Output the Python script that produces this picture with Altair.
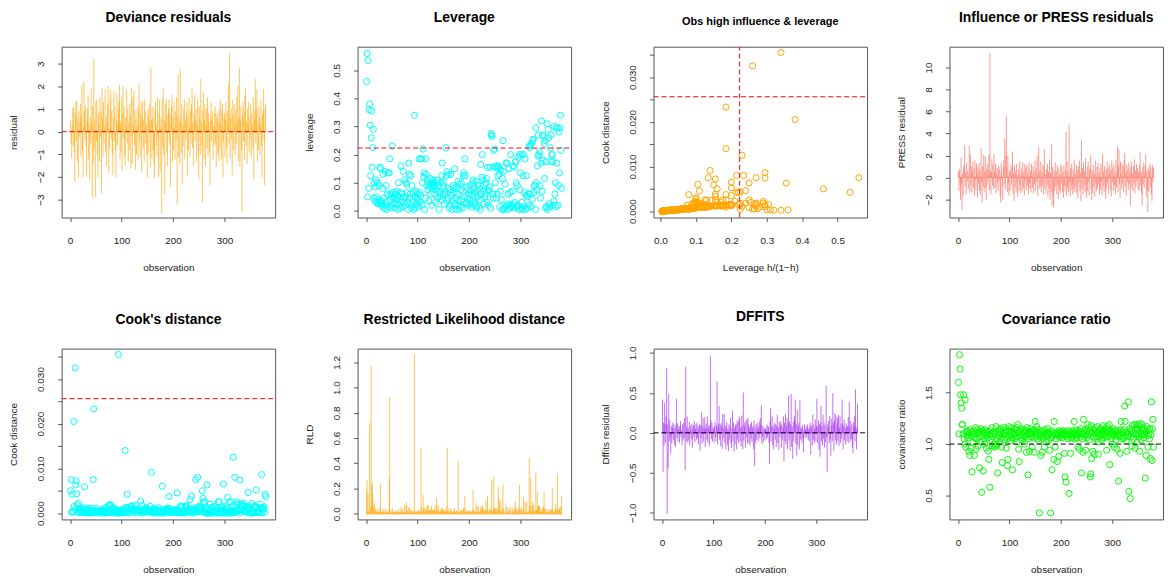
import altair as alt
import pandas as pd

obs = list(range(1, 381))

residual = [
0.5,-0.5,-1.15,0.3,1.0,-0.6,1.1,-0.9,-2.2,0.8,
1.3,-0.4,1.35,-1.3,0.6,-2.0,0.9,-0.2,0.4,1.2,
-1.1,0.7,2.05,-0.8,-2.0,0.2,2.2,0.9,-0.3,1.1,
-0.6,-1.9,0.5,1.0,1.6,-1.2,0.3,-2.1,0.6,-0.5,
1.9,0.4,-2.9,1.1,-1.4,3.2,-0.7,0.5,-2.85,1.3,
-0.4,1.4,-1.0,-2.0,0.8,0.3,-1.3,1.5,-0.2,0.9,
-2.7,1.9,0.6,-1.1,1.3,-0.5,0.2,1.85,-0.9,0.7,
-1.5,0.4,1.2,2.0,-1.8,0.1,-0.7,1.4,1.8,-0.3,
0.9,-1.0,-1.9,0.6,1.8,-0.4,1.1,-0.8,-2.0,0.5,
1.7,-0.6,0.3,1.0,1.3,2.05,-1.2,0.4,-0.9,1.5,
-1.7,0.8,2.0,-0.3,1.1,-1.1,-1.5,0.6,0.2,1.85,
-0.5,1.0,-1.3,0.4,-0.8,1.2,0.7,-1.6,1.9,-0.2,
-1.4,1.5,0.3,1.8,-0.6,0.9,-1.65,0.5,-1.0,1.0,
0.2,-1.2,1.1,2.1,-0.4,-1.1,0.8,1.3,-1.75,0.6,
1.3,-0.7,0.5,-1.3,1.4,0.9,-0.5,0.3,-1.0,-2.0,
0.7,1.0,-0.9,0.4,1.2,-1.6,2.8,0.5,-1.2,0.6,
1.1,-0.8,-1.4,-2.0,0.9,1.3,-0.6,0.3,-1.1,1.5,
-0.3,-2.0,0.8,1.4,-1.7,0.2,0.6,-3.6,1.45,-0.7,
1.9,-1.0,0.5,-2.75,1.2,0.4,1.4,-0.9,-1.5,0.7,
1.0,1.4,-0.5,0.8,-2.4,0.3,1.1,1.6,-1.3,0.6,
-0.8,1.3,0.2,-1.2,0.9,-0.4,1.5,-3.2,0.7,2.5,
-1.1,0.4,-1.4,2.75,0.6,-0.9,1.2,-2.3,0.3,-0.6,
1.0,1.4,-1.2,0.5,-0.3,0.8,1.3,-1.9,0.6,-0.8,
1.5,0.2,-1.1,0.9,-0.5,1.2,1.9,-0.7,0.4,-1.5,
0.8,1.6,-0.4,0.5,1.0,-1.3,0.3,1.4,-0.9,-2.1,
1.1,0.6,-1.0,2.3,0.4,-0.6,-3.1,0.9,1.7,-1.2,
0.5,1.2,-1.5,0.3,1.0,-0.7,1.5,-1.1,0.8,0.4,
-0.9,-2.35,0.7,1.3,-0.4,0.5,0.9,-1.2,0.2,-0.6,
0.8,1.1,-0.5,-1.55,0.6,0.8,-1.0,0.4,-1.3,1.0,
-0.7,1.4,0.3,-1.2,0.9,1.2,-2.0,-0.4,0.6,0.8,
-1.1,0.5,1.3,-0.7,-1.4,0.9,0.4,2.1,-0.5,3.45,
-1.2,0.6,1.0,-0.3,-1.9,1.4,0.7,-0.8,1.2,0.3,
-1.0,0.9,-0.5,1.5,0.4,2.0,-1.3,0.6,2.8,-1.55,
0.5,1.1,-0.8,-3.5,0.7,1.3,-0.4,0.9,-1.2,1.6,
1.9,-0.6,0.4,-1.4,1.0,0.2,1.3,-0.9,0.6,-0.3,
1.2,-1.1,0.8,0.3,-0.7,1.5,-2.1,0.5,0.9,2.3,
-0.5,1.0,1.85,-1.3,0.4,-0.8,1.1,0.6,-1.0,0.3,
1.4,-0.6,-2.0,0.7,0.9,1.85,-0.4,-2.35,1.0,1.2,
]

leverage = [
0.46,0.56,0.05,0.535,0.08,0.36,0.38,0.305,0.125,0.26,
0.355,0.155,0.225,0.29,0.045,0.10,0.035,0.085,0.11,0.05,
0.03,0.10,0.025,0.04,0.09,0.03,0.155,0.15,0.02,0.035,
0.025,0.08,0.13,0.045,0.01,0.02,0.14,0.03,0.09,0.005,
0.06,0.015,0.135,0.055,0.135,0.185,0.04,0.01,0.06,0.02,
0.23,0.05,0.065,0.03,0.045,0.01,0.06,0.025,0.07,0.04,
0.055,0.005,0.10,0.02,0.05,0.065,0.01,0.16,0.035,0.06,
0.015,0.14,0.045,0.03,0.11,0.05,0.02,0.10,0.095,0.065,
0.03,0.005,0.17,0.13,0.045,0.06,0.125,0.01,0.09,0.035,
0.02,0.065,0.005,0.34,0.01,0.05,0.07,0.025,0.045,0.06,
0.04,0.015,0.185,0.065,0.03,0.055,0.185,0.185,0.02,0.10,
0.22,0.12,0.135,0.005,0.045,0.185,0.13,0.09,0.11,0.075,
0.10,0.035,0.085,0.115,0.10,0.06,0.095,0.02,0.08,0.11,
0.09,0.10,0.06,0.085,0.03,0.075,0.10,0.11,0.045,0.09,
0.07,0.005,0.05,0.065,0.10,0.04,0.125,0.17,0.06,0.10,
0.09,0.025,0.06,0.07,0.225,0.125,0.035,0.14,0.08,0.045,
0.13,0.01,0.02,0.075,0.13,0.055,0.005,0.035,0.09,0.065,
0.08,0.15,0.025,0.045,0.005,0.085,0.06,0.02,0.105,0.035,
0.005,0.095,0.015,0.075,0.10,0.04,0.01,0.07,0.125,0.135,
0.05,0.185,0.125,0.025,0.03,0.085,0.045,0.02,0.075,0.06,
0.04,0.09,0.025,0.07,0.015,0.055,0.10,0.11,0.03,0.08,
0.065,0.02,0.045,0.105,0.01,0.075,0.05,0.09,0.015,0.04,
0.08,0.005,0.165,0.06,0.12,0.20,0.11,0.07,0.025,0.095,
0.05,0.06,0.10,0.115,0.03,0.155,0.075,0.02,0.07,0.085,
0.155,0.01,0.275,0.27,0.265,0.06,0.045,0.215,0.155,0.22,
0.10,0.16,0.045,0.155,0.06,0.125,0.16,0.155,0.13,0.015,
0.07,0.145,0.04,0.005,0.115,0.25,0.14,0.005,0.01,0.095,
0.015,0.17,0.02,0.17,0.005,0.06,0.025,0.15,0.01,0.065,
0.20,0.02,0.015,0.07,0.16,0.025,0.01,0.155,0.03,0.175,
0.175,0.10,0.015,0.09,0.02,0.19,0.005,0.20,0.075,0.135,
0.01,0.20,0.03,0.005,0.125,0.20,0.015,0.065,0.185,0.005,
0.055,0.125,0.01,0.05,0.06,0.02,0.23,0.225,0.06,0.235,
0.015,0.24,0.04,0.25,0.255,0.065,0.09,0.09,0.005,0.295,
0.10,0.075,0.16,0.195,0.27,0.20,0.21,0.09,0.045,0.17,
0.32,0.07,0.27,0.18,0.265,0.24,0.115,0.25,0.01,0.175,
0.015,0.31,0.005,0.29,0.26,0.025,0.015,0.225,0.175,0.27,
0.20,0.20,0.175,0.02,0.035,0.30,0.06,0.10,0.015,0.295,
0.17,0.295,0.02,0.09,0.28,0.135,0.295,0.34,0.215,0.08,
]

cook = [
0.005,0.0075,0.0002,0.0042,0.0003,0.0003,0.0205,0.0015,0.0008,0.0325,
0.0063,0.0072,0.0043,0.0018,0.0002,0.0022,0.0001,0.0009,0.0011,0.0003,
0.0002,0.0010,0.0001,0.0003,0.0008,0.0002,0.0012,0.0059,0.0001,0.0003,
0.0002,0.0007,0.0009,0.0003,0.0000,0.0001,0.0011,0.0002,0.0006,0.0000,
0.0004,0.0001,0.0010,0.0004,0.0075,0.0233,0.0003,0.0001,0.0005,0.0001,
0.0011,0.0004,0.0005,0.0002,0.0003,0.0000,0.0005,0.0002,0.0006,0.0003,
0.0004,0.0000,0.0008,0.0001,0.0004,0.0005,0.0000,0.0012,0.0002,0.0005,
0.0001,0.0011,0.0003,0.0002,0.0018,0.0004,0.0001,0.0019,0.0017,0.0005,
0.0002,0.0000,0.0012,0.0011,0.0003,0.0005,0.0010,0.0000,0.0007,0.0002,
0.0001,0.0005,0.0000,0.0355,0.0000,0.0004,0.0006,0.0002,0.0003,0.0005,
0.0003,0.0001,0.0009,0.0005,0.0002,0.0004,0.0140,0.0013,0.0001,0.0007,
0.0042,0.0010,0.0011,0.0000,0.0003,0.0014,0.0010,0.0007,0.0015,0.0006,
0.0016,0.0002,0.0007,0.0009,0.0008,0.0005,0.0017,0.0001,0.0006,0.0009,
0.0007,0.0008,0.0005,0.0007,0.0002,0.0006,0.0027,0.0010,0.0003,0.0017,
0.0006,0.0000,0.0004,0.0005,0.0008,0.0003,0.0010,0.0012,0.0005,0.0008,
0.0007,0.0002,0.0005,0.0006,0.0004,0.0015,0.0002,0.0091,0.0007,0.0003,
0.0010,0.0000,0.0001,0.0006,0.0011,0.0004,0.0000,0.0002,0.0007,0.0005,
0.0006,0.0012,0.0002,0.0003,0.0000,0.0007,0.0005,0.0001,0.0060,0.0002,
0.0000,0.0007,0.0001,0.0006,0.0009,0.0003,0.0000,0.0006,0.0010,0.0011,
0.0004,0.0037,0.0010,0.0002,0.0002,0.0007,0.0003,0.0001,0.0006,0.0005,
0.0003,0.0007,0.0002,0.0006,0.0001,0.0004,0.0008,0.0045,0.0002,0.0006,
0.0005,0.0001,0.0003,0.0016,0.0000,0.0013,0.0004,0.0015,0.0001,0.0003,
0.0006,0.0000,0.0014,0.0005,0.0016,0.0012,0.0015,0.0006,0.0002,0.0008,
0.0004,0.0005,0.0030,0.0009,0.0002,0.0038,0.0006,0.0001,0.0006,0.0007,
0.0012,0.0000,0.0006,0.0075,0.0005,0.0005,0.0003,0.0080,0.0012,0.0015,
0.0008,0.0012,0.0003,0.0012,0.0005,0.0010,0.0050,0.0033,0.0025,0.0001,
0.0006,0.0025,0.0003,0.0000,0.0009,0.0063,0.0011,0.0000,0.0000,0.0007,
0.0001,0.0020,0.0001,0.0013,0.0000,0.0005,0.0002,0.0012,0.0000,0.0005,
0.0015,0.0001,0.0001,0.0006,0.0012,0.0002,0.0000,0.0025,0.0002,0.0025,
0.0013,0.0008,0.0001,0.0007,0.0001,0.0014,0.0000,0.0065,0.0006,0.0010,
0.0000,0.0015,0.0002,0.0000,0.0010,0.0035,0.0001,0.0005,0.0025,0.0000,
0.0004,0.0025,0.0000,0.0004,0.0005,0.0001,0.0125,0.0017,0.0005,0.0080,
0.0001,0.0018,0.0003,0.0025,0.0020,0.0005,0.0007,0.0007,0.0000,0.0074,
0.0008,0.0006,0.0020,0.0014,0.0018,0.0015,0.0022,0.0007,0.0003,0.0012,
0.0002,0.0005,0.0010,0.0013,0.0015,0.0046,0.0009,0.0008,0.0000,0.0013,
0.0001,0.0003,0.0000,0.0022,0.0005,0.0002,0.0001,0.0016,0.0012,0.0015,
0.0014,0.0052,0.0013,0.0001,0.0002,0.0003,0.0005,0.0020,0.0001,0.0010,
0.0012,0.0086,0.0001,0.0007,0.0009,0.0011,0.0014,0.0002,0.0042,0.0037,
]

press = [
0.5,-1.2,0.7,-0.4,-2.0,1.8,-0.6,-2.9,0.3,-1.6,
0.9,1.1,2.85,-0.8,0.4,-1.5,1.3,-0.3,0.6,-1.0,
0.2,2.85,-1.4,2.0,-0.7,1.0,-1.3,0.5,1.4,-0.9,
0.8,-1.6,1.5,-0.2,-1.1,1.2,0.4,-1.8,0.9,-0.5,
1.3,-1.2,0.6,-1.5,2.65,-0.4,-2.2,1.0,-0.8,2.0,
-1.3,0.5,1.9,-0.9,-2.0,0.7,1.2,-0.6,0.3,2.0,
-1.1,11.3,0.6,-1.5,0.4,1.6,-0.7,1.1,-1.0,2.1,
0.5,-0.9,1.2,-1.4,0.3,0.8,-0.5,-1.2,1.0,-0.3,
0.7,-1.6,-2.2,1.3,0.4,-0.8,-2.0,0.9,1.5,-0.6,
3.5,-1.0,2.0,5.6,0.8,-1.3,1.9,-0.5,-1.6,0.6,
-1.2,0.4,1.1,-0.7,0.9,2.3,-1.5,0.3,-2.1,1.0,
-0.8,0.5,-1.3,1.2,-0.4,-1.7,0.7,0.2,-1.1,1.4,
-0.6,-1.4,0.8,0.3,-1.2,1.3,-0.9,0.5,-1.6,1.2,
-0.3,0.9,-1.1,1.1,-0.7,0.4,-1.5,1.3,-0.5,-1.0,
0.6,-1.3,1.2,0.2,-0.9,1.0,-1.4,0.5,-0.6,1.5,
-1.2,0.8,-0.4,1.9,-1.6,0.3,2.7,-1.0,0.6,-0.8,
1.4,-1.3,0.4,-0.7,1.1,-1.5,0.9,2.5,-1.0,0.2,
-1.4,0.7,-0.6,1.2,-1.7,0.5,-1.0,1.6,-2.0,0.4,
-1.3,3.0,-2.5,0.9,-1.6,-2.7,0.6,-1.2,1.3,-0.8,
0.5,-1.5,1.0,-0.6,-1.9,0.8,-1.1,0.3,-1.4,1.2,
-0.5,0.9,-1.3,0.4,-1.8,1.1,-0.7,-1.2,0.6,4.1,
-1.6,1.4,-0.9,0.5,-1.3,4.75,-0.4,-1.7,0.8,-1.1,
1.2,-0.6,-1.5,0.7,-1.0,1.6,-1.3,0.3,-0.8,1.1,
-1.4,0.6,-1.9,1.0,-0.5,1.5,-1.2,0.4,-2.1,3.4,
-1.0,0.8,-1.5,1.3,-0.7,0.5,-1.3,1.7,-0.6,-1.8,
0.9,-1.2,1.4,-0.4,-1.6,0.7,1.0,2.0,-1.1,-2.0,
0.6,-1.4,1.1,-0.8,0.3,-1.7,1.5,-0.5,-1.2,0.9,
-1.0,1.3,-0.6,0.4,-1.5,0.8,-1.1,1.2,-0.3,-1.6,
2.1,-0.8,0.5,-1.3,1.0,-0.6,-1.9,0.7,-1.0,1.4,
-0.5,0.9,-1.4,0.3,1.2,-1.1,0.6,-1.7,1.5,-0.4,
0.8,-1.2,1.1,-0.7,0.4,-1.5,1.6,-0.9,0.5,2.8,
-1.3,1.0,2.5,-0.6,-1.8,1.4,0.3,-1.0,1.2,-0.5,
0.9,-1.3,1.5,2.2,-0.8,0.4,-1.6,1.1,-0.4,0.7,
-1.1,1.3,-0.6,0.5,-2.5,0.9,1.4,-0.9,0.3,-1.2,
1.0,-0.5,1.6,-1.4,0.6,-0.8,1.2,-0.3,0.8,-1.0,
0.4,-1.2,1.1,2.3,-0.7,0.5,-1.5,-2.5,0.9,-0.6,
1.3,-0.9,0.4,1.0,2.1,-1.7,0.6,-1.1,-3.1,0.8,
-1.3,0.5,1.2,-0.8,0.9,-1.5,-2.1,1.1,-0.4,0.8,
]

rld = [
0.18,0.26,0.01,0.15,0.01,0.01,0.72,0.05,0.03,1.165,
0.22,0.25,0.15,0.06,0.01,0.08,0.00,0.03,0.04,0.01,
0.01,0.03,0.00,0.01,0.03,0.01,0.04,0.23,0.00,0.01,
0.01,0.02,0.03,0.01,0.00,0.00,0.04,0.01,0.02,0.00,
0.01,0.00,0.03,0.01,0.28,0.92,0.01,0.00,0.02,0.00,
0.04,0.01,0.02,0.01,0.01,0.00,0.02,0.01,0.02,0.01,
0.01,0.00,0.03,0.00,0.01,0.02,0.00,0.05,0.01,0.02,
0.00,0.04,0.01,0.01,0.07,0.01,0.00,0.09,0.06,0.02,
0.01,0.00,0.05,0.04,0.01,0.02,0.03,0.00,0.02,0.01,
0.00,0.02,0.00,1.26,0.00,0.01,0.02,0.01,0.01,0.02,
0.01,0.00,0.03,0.02,0.01,0.01,0.52,0.05,0.00,0.02,
0.145,0.03,0.04,0.00,0.01,0.05,0.03,0.02,0.065,0.02,
0.065,0.01,0.02,0.03,0.03,0.02,0.06,0.00,0.02,0.03,
0.02,0.03,0.02,0.065,0.01,0.02,0.12,0.04,0.01,0.065,
0.02,0.00,0.01,0.02,0.03,0.01,0.04,0.04,0.02,0.03,
0.02,0.01,0.02,0.02,0.01,0.055,0.01,0.52,0.02,0.01,
0.04,0.00,0.00,0.02,0.04,0.01,0.00,0.01,0.02,0.02,
0.02,0.04,0.01,0.01,0.00,0.02,0.02,0.00,0.415,0.01,
0.00,0.02,0.00,0.02,0.03,0.01,0.00,0.02,0.04,0.04,
0.01,0.14,0.03,0.01,0.01,0.02,0.01,0.00,0.02,0.02,
0.01,0.02,0.01,0.02,0.00,0.01,0.03,0.19,0.01,0.02,
0.02,0.00,0.01,0.08,0.00,0.05,0.01,0.06,0.00,0.01,
0.02,0.00,0.05,0.02,0.06,0.04,0.06,0.02,0.01,0.03,
0.01,0.02,0.105,0.03,0.01,0.14,0.02,0.00,0.02,0.03,
0.04,0.00,0.02,0.26,0.02,0.02,0.01,0.29,0.04,0.05,
0.03,0.04,0.01,0.04,0.02,0.03,0.21,0.12,0.09,0.00,
0.02,0.10,0.01,0.00,0.03,0.225,0.04,0.00,0.00,0.02,
0.00,0.07,0.00,0.05,0.00,0.02,0.01,0.04,0.00,0.02,
0.05,0.00,0.00,0.02,0.04,0.01,0.00,0.04,0.01,0.095,
0.05,0.03,0.00,0.02,0.00,0.05,0.00,0.225,0.02,0.03,
0.00,0.05,0.01,0.00,0.03,0.13,0.00,0.02,0.095,0.00,
0.01,0.09,0.00,0.01,0.02,0.00,0.44,0.06,0.02,0.285,
0.00,0.06,0.01,0.09,0.07,0.02,0.02,0.02,0.00,0.325,
0.03,0.02,0.17,0.05,0.06,0.05,0.06,0.02,0.01,0.04,
0.01,0.02,0.03,0.05,0.05,0.165,0.03,0.03,0.00,0.04,
0.00,0.01,0.00,0.03,0.02,0.01,0.00,0.03,0.02,0.03,
0.03,0.205,0.03,0.00,0.01,0.01,0.02,0.07,0.00,0.03,
0.04,0.31,0.00,0.02,0.03,0.04,0.05,0.01,0.05,0.135,
]

dffits = [
0.41,-0.48,0.12,-0.15,0.37,0.1,-0.12,0.2,0.8,-1.01,
0.1,-0.44,0.48,-0.1,0.16,-0.05,-0.25,0.08,-0.12,0.06,
0.12,-0.08,0.1,-0.14,0.05,-0.17,0.09,0.42,-0.06,0.11,
-0.1,0.04,0.08,-0.12,0.07,0.14,-0.05,0.03,-0.15,0.1,
-0.08,0.12,-0.06,0.18,-0.46,0.82,-0.1,0.07,0.2,-0.12,
0.05,-0.09,0.13,-0.15,0.08,0.03,-0.07,0.11,-0.18,0.06,
0.09,-0.05,0.14,-0.11,0.04,0.1,-0.08,0.12,-0.06,0.08,
-0.14,0.05,0.1,-0.22,0.09,-0.06,0.25,-0.13,0.07,0.18,
-0.1,0.04,0.19,-0.17,0.06,0.11,-0.08,0.2,-0.12,0.05,
0.09,-0.16,0.08,0.96,0.15,-0.07,0.12,-0.1,0.06,0.04,
-0.12,0.08,0.13,-0.05,-0.1,0.09,0.64,-0.14,0.06,0.11,
0.33,-0.08,0.1,-0.16,0.07,0.12,-0.19,0.23,-0.06,0.05,
0.23,-0.12,0.09,-0.2,0.06,0.13,-0.15,0.04,-0.22,0.1,
-0.08,0.07,0.18,-0.12,-0.18,0.05,0.27,-0.1,0.12,-0.23,
0.06,-0.14,0.09,0.1,-0.2,0.15,-0.08,0.13,-0.12,0.2,
0.17,-0.1,0.06,-0.16,0.21,0.08,-0.2,0.5,-0.09,0.12,
0.07,-0.18,0.14,-0.05,0.16,-0.13,0.18,0.09,-0.12,0.06,
-0.15,0.1,-0.07,0.13,-0.11,0.05,0.08,-0.2,0.15,-0.41,
0.06,-0.12,0.1,-0.08,0.12,0.04,-0.1,0.07,0.13,-0.06,
0.18,0.09,0.34,-0.13,-0.05,0.08,-0.11,0.06,0.03,-0.09,
0.05,0.04,-0.07,0.1,-0.05,0.08,0.06,-0.12,-0.38,0.14,
0.3,-0.1,0.07,0.2,-0.15,0.09,-0.2,0.05,0.12,-0.08,
0.1,-0.17,0.08,0.22,-0.12,0.06,-0.21,0.13,-0.05,0.09,
0.14,-0.18,0.1,-0.08,0.06,0.2,-0.35,0.12,-0.1,0.23,
-0.14,0.08,0.18,-0.2,0.12,0.46,-0.09,0.14,-0.22,0.1,
0.48,-0.17,0.07,-0.32,0.13,-0.1,0.2,0.16,0.41,-0.13,
0.1,-0.28,0.28,-0.15,0.08,0.12,-0.2,0.4,-0.08,0.06,
0.05,-0.12,0.09,-0.07,-0.24,0.04,0.1,-0.06,0.03,0.08,
-0.05,0.06,0.1,-0.08,0.04,-0.1,0.07,0.12,-0.27,0.09,
0.06,-0.15,0.22,-0.08,0.1,-0.12,0.05,0.16,-0.1,0.08,
0.42,-0.12,0.07,0.15,-0.2,0.1,-0.29,0.12,0.33,-0.1,
0.08,-0.15,0.22,-0.07,0.12,-0.18,0.09,-0.11,0.58,-0.05,
-0.48,0.1,0.06,0.14,-0.12,0.2,-0.08,-0.28,0.17,0.08,
-0.1,0.49,0.12,-0.22,0.15,0.24,-0.09,0.21,-0.14,0.1,
0.18,-0.1,0.22,-0.16,0.06,0.2,-0.12,0.1,-0.07,0.41,
0.12,-0.2,0.08,0.16,-0.09,0.05,-0.14,0.11,0.07,-0.1,
0.08,0.19,-0.12,0.38,0.06,-0.1,0.14,-0.07,0.1,-0.18,
-0.25,0.12,0.08,0.2,-0.1,0.54,0.07,-0.2,0.05,0.36,
]

covratio = [
1.6,1.1,1.87,1.73,1.48,1.4,1.35,1.19,1.19,1.1,
1.48,1.05,1.0,1.43,0.97,1.12,1.08,1.13,1.12,1.06,
0.93,1.1,0.89,1.14,0.96,1.08,0.73,1.12,1.02,1.1,
1.13,0.89,1.06,1.16,0.95,1.1,1.05,1.14,0.98,1.11,
1.07,0.77,1.12,1.02,1.15,0.53,1.08,1.13,0.74,1.05,
1.11,1.0,1.14,1.08,0.96,1.1,1.12,1.06,0.93,0.85,
1.09,0.58,1.13,1.04,1.1,1.16,0.98,1.07,1.12,1.0,
0.97,1.1,0.98,1.17,1.05,0.99,0.72,1.12,1.08,1.14,
1.02,1.1,1.15,1.06,0.97,0.82,1.13,1.09,1.16,1.04,
1.11,1.07,1.14,0.96,1.05,0.79,0.85,1.12,1.17,1.08,
1.13,1.03,1.1,1.16,1.06,0.75,1.12,1.09,1.15,1.05,
1.1,1.14,1.07,1.16,1.02,1.19,1.11,0.95,0.83,1.08,
1.13,1.06,1.15,1.1,1.04,1.12,1.08,1.14,1.0,1.11,
1.07,1.13,0.92,1.16,1.09,0.7,1.05,1.12,0.93,1.1,
1.15,1.07,1.11,0.97,1.1,1.13,1.06,0.92,1.14,1.22,
1.08,1.12,1.17,1.05,1.1,1.14,1.03,0.33,1.11,1.07,
0.89,1.1,1.13,0.92,1.08,1.05,1.12,0.97,1.14,1.09,
1.02,1.11,1.07,1.15,1.09,1.04,1.12,0.94,1.1,0.33,
1.06,1.13,0.75,1.08,1.11,0.85,1.22,1.09,0.97,1.1,
1.05,1.12,0.83,1.08,1.1,0.88,1.13,1.07,1.11,1.09,
1.12,1.06,1.1,1.13,1.08,1.11,0.91,0.68,1.09,0.63,
1.12,1.07,1.1,1.05,1.13,0.52,1.09,1.11,0.91,1.06,
1.1,1.13,1.07,1.09,1.12,1.22,1.05,1.11,1.08,1.14,
1.06,1.1,0.97,1.13,1.09,0.95,1.12,1.07,1.15,0.72,
1.1,1.05,0.92,1.24,1.11,1.08,1.14,0.94,1.1,1.06,
1.13,1.19,1.09,1.16,1.04,1.12,0.68,0.71,1.18,0.86,
1.11,0.93,1.07,1.14,0.9,1.1,1.16,1.05,1.12,1.08,
1.17,1.02,0.9,1.11,1.14,1.07,1.1,1.15,1.04,1.12,
1.09,1.18,1.13,1.06,1.1,1.15,1.08,1.12,0.94,1.17,
1.1,1.07,1.14,1.19,0.8,1.12,1.09,1.05,1.13,1.0,
1.15,1.11,1.08,0.97,1.13,1.1,1.04,1.12,0.95,1.09,
1.13,0.64,1.07,1.1,0.91,1.14,1.22,1.08,1.12,1.05,
1.1,1.14,1.06,1.37,1.22,1.11,1.03,0.93,1.12,1.08,
1.41,0.54,1.1,1.15,0.47,1.07,1.13,0.98,1.18,1.1,
1.05,1.19,1.12,0.96,1.16,1.09,1.19,1.02,1.14,1.1,
1.18,1.07,0.93,1.2,1.11,1.04,1.16,1.19,1.09,1.13,
1.06,1.15,1.1,0.67,1.12,0.89,1.17,1.08,0.97,1.14,
1.1,1.05,1.15,0.86,1.09,1.41,0.84,1.15,1.24,0.97,
]

lev_cut = [0.2235]
cook_cut = [0.0256]
zero_ref = [0]
one_ref = [1]

df = pd.DataFrame({
    "obs": obs, "residual": residual, "leverage": leverage, "cook": cook,
    "press": press, "rld": rld, "dffits": dffits, "covratio": covratio,
})

FONT = "Liberation Sans"
H = 172
W = 215
X_OBS = [-16.5, 398.5]
OBS_TICKS = [0, 100, 200, 300]
TXT = "#222222"


def xaxis(title, values, fmt):
    return alt.Axis(title=title, values=values, format=fmt, labelBaseline="middle",
                    labelAlign="center", labelPadding=19, labelFlush=False, labelOverlap=False,
                    titleX=W / 2, titleY=50, titleBaseline="middle", titleAlign="center")


def yaxis(title, values, fmt, expr=None):
    kw = dict(title=title, values=values, format=fmt, labelAngle=-90, labelAlign="center",
              labelBaseline="middle", labelPadding=17, labelFlush=False, labelOverlap=False,
              titleX=-48.5, titleY=H / 2, titleBaseline="middle", titleAlign="center",
              titleAngle=-90)
    if expr:
        kw["labelExpr"] = expr
    return alt.Axis(**kw)


def ptitle(text, size=14):
    return alt.TitleParams(text=text, font=FONT, fontSize=size, fontWeight="bold",
                           anchor="middle", frame="group", offset=11, baseline="alphabetic",
                           color="#000000")


def ref_line(name, xs, ys, color, xscale, yscale, xax, yax):
    fx, fy = f"rx_{name}", f"ry_{name}"
    return alt.Chart(pd.DataFrame({fx: xs, fy: ys})).mark_line(
        strokeWidth=1, color=color, strokeDash=[5, 3], opacity=1, clip=True
    ).encode(
        x=alt.X(f"{fx}:Q", scale=xscale, axis=xax),
        y=alt.Y(f"{fy}:Q", scale=yscale, axis=yax),
    )


def rule_panel(name, col, color, title, ytitle, yvals, yfmt, ydom, ref=None, refcolor=None,
               op=0.65):
    xscale = alt.Scale(domain=X_OBS, nice=False, zero=False)
    yscale = alt.Scale(domain=ydom, nice=False, zero=False)
    xax = xaxis("observation", OBS_TICKS, "d")
    yax = yaxis(ytitle, yvals, yfmt)
    bars = alt.Chart(df).mark_rule(color=color, strokeWidth=1, opacity=op,
                                   strokeCap="square").encode(
        x=alt.X("obs:Q", scale=xscale, axis=xax),
        y=alt.Y(f"{col}:Q", scale=yscale, axis=yax),
        y2=alt.Y2Datum(0),
    )
    layers = [bars]
    if ref is not None:
        layers.append(ref_line(name + "h", X_OBS, [ref[0], ref[0]], refcolor,
                               xscale, yscale, xax, yax))
    return alt.layer(*layers).properties(width=W, height=H, title=ptitle(title))


def point_panel(name, xcol, ycol, color, title, xtitle, ytitle, xvals, xfmt, xdom,
                yvals, yfmt, ydom, yexpr=None, hrefs=(), vref=None, tsize=14):
    xscale = alt.Scale(domain=xdom, nice=False, zero=False)
    yscale = alt.Scale(domain=ydom, nice=False, zero=False)
    xax = xaxis(xtitle, xvals, xfmt)
    yax = yaxis(ytitle, yvals, yfmt, yexpr)
    pts = alt.Chart(df).mark_point(shape="circle", filled=False, size=38, strokeWidth=1,
                                   color=color, opacity=1).encode(
        x=alt.X(f"{xcol}:Q", scale=xscale, axis=xax),
        y=alt.Y(f"{ycol}:Q", scale=yscale, axis=yax),
    )
    layers = [pts]
    for i, (val, c) in enumerate(hrefs):
        layers.append(ref_line(f"{name}h{i}", xdom, [val[0], val[0]], c,
                               xscale, yscale, xax, yax))
    if vref is not None:
        layers.append(ref_line(f"{name}v", [vref[0], vref[0]], ydom, "#FF0000",
                               xscale, yscale, xax, yax))
    return alt.layer(*layers).properties(width=W, height=H, title=ptitle(title, tsize))


cook_expr = "(round(datum.value*1000) % 10 == 0) ? datum.label : ''"
cook_ticks = [0, 0.005, 0.01, 0.015, 0.02, 0.025, 0.03, 0.035]
lev_ticks = [0, 0.1, 0.2, 0.3, 0.4, 0.5]

p1 = rule_panel("p1", "residual", "#FFA500", "Deviance residuals", "residual",
                [-3, -2, -1, 0, 1, 2, 3], "d", [-3.79, 3.75], zero_ref, "#FF0000")
p2 = point_panel("p2", "obs", "leverage", "#00FFFF", "Leverage", "observation", "leverage",
                 OBS_TICKS, "d", X_OBS, lev_ticks, ".1f", [-0.0237, 0.584],
                 hrefs=[(lev_cut, "#FF0000")])
p3 = point_panel("p3", "leverage", "cook", "#FFA500", "Obs high influence & leverage",
                 "Leverage h/(1\u2212h)", "Cook distance", lev_ticks, ".1f", [-0.0196, 0.583],
                 cook_ticks, ".3f", [-0.00142, 0.0368], yexpr=cook_expr,
                 hrefs=[(cook_cut, "#FF0000")], vref=lev_cut, tsize=11)
p4 = rule_panel("p4", "press", "#FA8072", "Influence or PRESS residuals", "PRESS residual",
                [-2, 0, 2, 4, 6, 8, 10], "d", [-3.65, 11.9], op=0.8)

p5 = point_panel("p5", "obs", "cook", "#00FFFF", "Cook's distance", "observation",
                 "Cook distance", OBS_TICKS, "d", X_OBS, cook_ticks, ".3f",
                 [-0.00142, 0.0368], yexpr=cook_expr, hrefs=[(cook_cut, "#FF0000")])
p6 = rule_panel("p6", "rld", "#FFA500", "Restricted Likelihood distance", "RLD",
                [0, 0.2, 0.4, 0.6, 0.8, 1.0, 1.2], ".1f", [-0.045, 1.309])
p7 = rule_panel("p7", "dffits", "#A020F0", "DFFITS", "Dffits residual",
                [-1, -0.5, 0, 0.5, 1], ".1f", [-1.083, 1.053], zero_ref, "#000000")
p8 = point_panel("p8", "obs", "covratio", "#00FF00", "Covariance ratio", "observation",
                 "covariance ratio", OBS_TICKS, "d", X_OBS, [0.5, 1.0, 1.5], ".1f",
                 [0.267, 1.929], hrefs=[(one_ref, "#000000")])

chart = alt.concat(p1, p2, p3, p4, p5, p6, p7, p8, columns=4,
                   spacing={"column": 83, "row": 132}, bounds="flush").properties(
    padding={"left": 0, "top": 0, "right": 0, "bottom": 0}
).configure_view(stroke="#555555", strokeWidth=1).configure_axis(
    labelFont=FONT, titleFont=FONT, labelFontSize=10, titleFontSize=10,
    labelColor=TXT, titleColor=TXT, titleFontWeight="normal", tickColor="#555555",
    tickSize=4, tickWidth=1, domain=False, grid=False, labelOverlap=False
)

chart.save("out.html", embed_options={"renderer": "svg", "actions": False})
